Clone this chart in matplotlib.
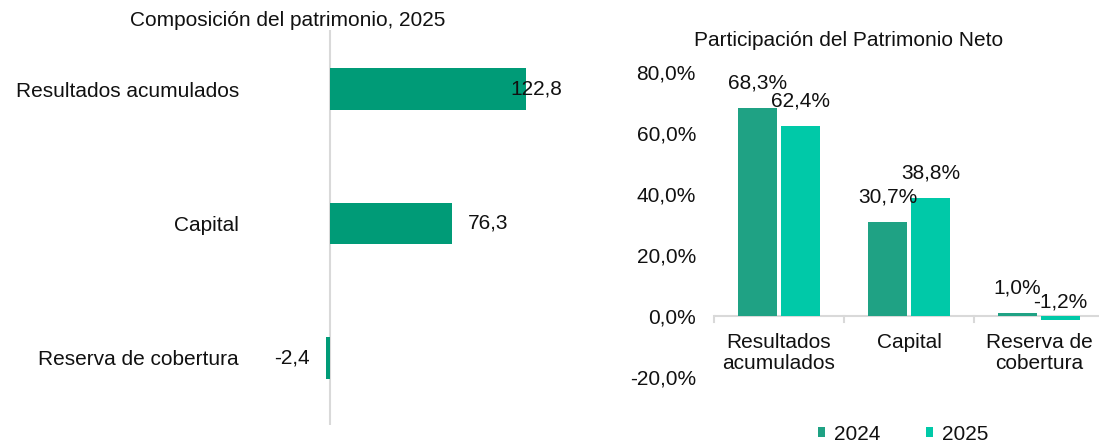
import matplotlib
matplotlib.use('agg')
import matplotlib.pyplot as plt
import numpy as np

plt.rcParams['font.family'] = ['Liberation Sans', 'DejaVu Sans']
plt.rcParams['font.size'] = 15

# composition of equity, 2025
comp_cats = ['Resultados acumulados', 'Capital', 'Reserva de cobertura']
comp_vals = [122.8, 76.3, -2.4]

# share of net equity
share_cats = ['Resultados\nacumulados', 'Capital', 'Reserva de\ncobertura']
share_2024 = [68.3, 30.7, 1.0]
share_2025 = [62.4, 38.8, -1.2]
years = ['2024', '2025']

W, H = 1099, 443
fig = plt.figure(figsize=(W / 100, H / 100), dpi=100)
txt = '#111111'
grey = '#d9d9d9'

################################################################################
# Left panel
ax1 = fig.add_axes([250 / W, 1 - 425 / H, 350 / W, 395 / H])
y = np.arange(len(comp_cats))
ax1.barh(y, comp_vals, height=0.31, color='#009b77')
ax1.set_xlim(-50, 168.75)
ax1.set_ylim(2.5, -0.44)
ax1.axvline(0, color=grey, lw=1.5, zorder=0)
for s in ax1.spines.values():
  s.set_visible(False)
ax1.set_xticks([])
ax1.set_yticks(y)
ax1.set_yticklabels(comp_cats, color=txt)
ax1.tick_params(axis='y', length=0, pad=8)

offs = [-16, 16, -16]
for i, v in enumerate(comp_vals):
  ha = 'left' if v >= 0 else 'right'
  dx = offs[i] if v >= 0 else -16
  ax1.annotate('{:.1f}'.format(v).replace('.', ','), (v, i), xytext=(dx * 0.72, 0),
               textcoords='offset points', ha=ha, va='center', color=txt)

fig.text(288 / W, 1 - 20 / H, 'Composición del patrimonio, 2025', ha='center', va='center',
         color=txt, fontsize=15)

################################################################################
# Right panel
ax2 = fig.add_axes([714 / W, 1 - 377 / H, 390 / W, 305 / H])
x = np.arange(len(share_cats))
bw = 0.3
gap = 4 / 130.0
b1 = ax2.bar(x - bw / 2 - gap / 2, share_2024, width=bw, color='#1fa284', label=years[0])
b2 = ax2.bar(x + bw / 2 + gap / 2, share_2025, width=bw, color='#00c9a8', label=years[1])
ax2.set_xlim(-0.5, 2.5)
ax2.set_ylim(-20, 80)
ax2.set_yticks([-20, 0, 20, 40, 60, 80])
ax2.set_yticklabels(['{:.1f}%'.format(t).replace('.', ',') for t in [-20, 0, 20, 40, 60, 80]],
                    color=txt)
ax2.tick_params(axis='y', length=0, pad=13)
for s in ax2.spines.values():
  s.set_visible(False)
ax2.axhline(0, color=grey, lw=1.5, zorder=0)
ax2.set_xticks([])
for b in [-0.5, 0.5, 1.5]:
  ax2.plot([b, b], [0, -2.1], color=grey, lw=1.5, clip_on=False)
for i, c in enumerate(share_cats):
  ax2.annotate(c, (i, 0), xytext=(0, -12), textcoords='offset points', ha='center', va='top',
               color=txt, linespacing=1.15)

for bars, vals in [(b1, share_2024), (b2, share_2025)]:
  for r, v in zip(bars, vals):
    cx = r.get_x() + r.get_width() / 2
    if v >= 0:
      ax2.annotate('{:.1f}%'.format(v).replace('.', ','), (cx, v), xytext=(0, 18),
                   textcoords='offset points', ha='center', va='center', color=txt)
    else:
      ax2.annotate('{:.1f}%'.format(v).replace('.', ','), (cx, 0), xytext=(0, 10),
                   textcoords='offset points', ha='center', va='center', color=txt)

fig.text(849 / W, 1 - 40 / H, 'Participación del Patrimonio Neto', ha='center', va='center',
         color=txt, fontsize=15)

fig.legend(handles=[b1, b2], labels=years, loc='center', bbox_to_anchor=(903 / W, 1 - 434 / H),
           ncol=2, frameon=False, handlelength=0.35, handleheight=0.35, handletextpad=0.4,
           columnspacing=2.2, labelcolor=txt)

fig.savefig('out.png', dpi=100)
